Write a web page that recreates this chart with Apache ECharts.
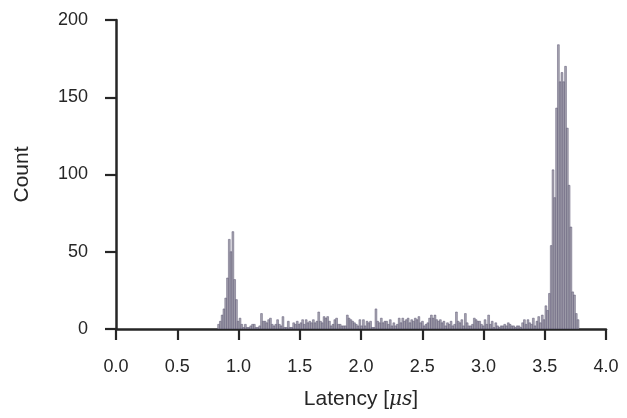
<!DOCTYPE html>
<html>
<head>
<meta charset="utf-8">
<script src="https://cdn.jsdelivr.net/npm/echarts@6/dist/echarts.min.js"></script>
<style>
  html, body { margin: 0; padding: 0; background: #ffffff; }
  #chart { width: 627px; height: 418px; }
</style>
</head>
<body>
<div id="chart"></div>
<script>
// Histogram bins: left edge of the first bin and the common bin width (µs)
const binStart = 0.83;
const binWidth = 0.0146;

// Counts per bin, in order of increasing latency
const leftPeakCounts = [3, 5, 9, 13, 20, 33, 58, 50, 63, 32, 19, 5, 7, 3];
const plateauCounts = [
  1, 3, 1, 1, 2, 3, 3, 1, 1, 2,
  10, 5, 5, 4, 6, 7, 3, 2, 3, 6,
  3, 2, 8, 1, 1, 5, 1, 1, 4, 3,
  5, 3, 4, 6, 3, 6, 4, 5, 4, 6,
  4, 5, 11, 5, 4, 8, 7, 8, 5, 2,
  3, 6, 7, 3, 3, 2, 2, 2, 9, 7,
  6, 5, 4, 3, 2, 6, 2, 6, 2, 5,
  4, 5, 1, 1, 13, 5, 4, 7, 4, 5,
  5, 3, 6, 2, 4, 2, 3, 7, 4, 7,
  5, 6, 7, 4, 6, 5, 7, 6, 8, 4,
  5, 2, 3, 4, 7, 9, 7, 9, 6, 5,
  6, 4, 5, 2, 4, 3, 5, 2, 3, 11,
  5, 4, 6, 2, 10, 4, 2, 2, 3, 7,
  6, 5, 5, 3, 2, 6, 3, 9, 3, 5,
  1, 4, 2, 1, 2, 2, 3, 2, 4, 3,
  2, 2, 1, 2, 2, 1, 4, 6, 3, 6,
  4, 3, 7, 2, 5, 8, 4, 9
];
const rightPeakCounts = [6, 15, 12, 23, 54, 103, 85, 143, 184, 160, 166, 160, 170, 130, 93, 66, 24, 22, 10, 6];

// Axis ticks
const xTicks = [0.0, 0.5, 1.0, 1.5, 2.0, 2.5, 3.0, 3.5, 4.0];
const yTicks = [0, 50, 100, 150, 200];

const counts = leftPeakCounts.concat(plateauCounts, rightPeakCounts);
const bins = counts.map((c, i) => [binStart + i * binWidth, binStart + (i + 1) * binWidth, c]);

const axisColor = '#262626';
const font = '"Liberation Sans", Arial, Helvetica, sans-serif';

const chart = echarts.init(document.getElementById('chart'), null, { renderer: 'canvas' });

chart.setOption({
  animation: false,
  backgroundColor: '#ffffff',
  grid: { left: 116, right: 21, top: 20, bottom: 89, containLabel: false },
  xAxis: {
    type: 'value',
    min: xTicks[0],
    max: xTicks[xTicks.length - 1],
    interval: 0.5,
    name: '{t|Latency [}{m|μs}{t|]}',
    nameLocation: 'middle',
    nameGap: 60,
    nameTextStyle: {
      rich: {
        t: { fontFamily: font, fontSize: 21, color: axisColor },
        m: { fontFamily: '"DejaVu Serif", "Liberation Serif", serif', fontStyle: 'italic', fontSize: 20, color: axisColor }
      }
    },
    axisLine: { show: true, lineStyle: { color: axisColor, width: 2.5 } },
    axisTick: { show: true, inside: false, length: 11, lineStyle: { color: axisColor, width: 2.2 } },
    axisLabel: {
      margin: 29,
      fontFamily: font,
      fontSize: 18,
      color: axisColor,
      formatter: v => v.toFixed(1)
    },
    splitLine: { show: false }
  },
  yAxis: {
    type: 'value',
    min: yTicks[0],
    max: yTicks[yTicks.length - 1],
    interval: 50,
    name: 'Count',
    nameLocation: 'middle',
    nameGap: 83,
    nameTextStyle: { fontFamily: font, fontSize: 21, color: axisColor },
    axisLine: { show: true, lineStyle: { color: axisColor, width: 2.5 } },
    axisTick: { show: true, inside: false, length: 11, lineStyle: { color: axisColor, width: 2.2 } },
    axisLabel: { margin: 28, fontFamily: font, fontSize: 18, color: axisColor },
    splitLine: { show: false }
  },
  series: [{
    type: 'custom',
    data: bins,
    encode: { x: [0, 1], y: 2 },
    clip: true,
    z: 1,
    renderItem: function (params, api) {
      const lo = api.coord([api.value(0), 0]);
      const hi = api.coord([api.value(1), api.value(2)]);
      return {
        type: 'rect',
        shape: { x: lo[0], y: hi[1], width: hi[0] - lo[0], height: lo[1] - hi[1] },
        style: { fill: 'rgba(155,153,166,0.85)', stroke: 'rgba(90,85,115,0.85)', lineWidth: 0.6 }
      };
    }
  }]
});
</script>
</body>
</html>
